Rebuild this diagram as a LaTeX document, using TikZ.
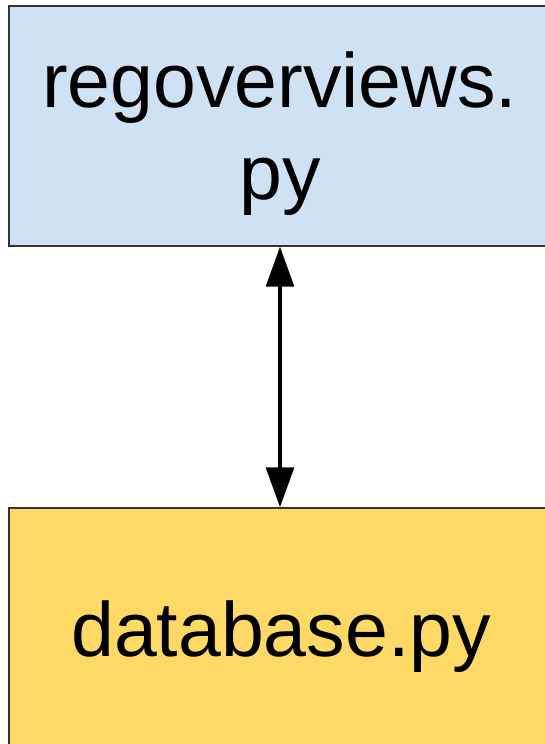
\documentclass[tikz,border=0pt]{standalone}
\usepackage{fontspec}
\setmainfont{Liberation Sans}
\usetikzlibrary{arrows.meta}
\definecolor{boxblue}{HTML}{CFE2F3}
\definecolor{boxyellow}{HTML}{FFD966}
\definecolor{edgegray}{HTML}{333333}
\tikzset{
  filebox/.style={draw=edgegray, line width=1.3pt, rectangle, inner sep=0pt},
  lbl/.style={inner sep=0pt, anchor=base, font=\fontsize{77}{92}\selectfont},
  arr/.style={line width=4.6pt, {Triangle[length=40pt,width=27.5pt]}-{Triangle[length=40pt,width=27.5pt]}}
}
\begin{document}
\begin{tikzpicture}[x=1pt,y=1pt]
\useasboundingbox (0,0) rectangle (545,744);
\clip (0,0) rectangle (545,744);
\node[filebox, fill=boxblue, minimum width=542pt, minimum height=240pt] (top) at (280,618) {};
\node[filebox, fill=boxyellow, minimum width=542pt, minimum height=260pt] (bot) at (280,106) {};
\node[lbl] (t1) at (279.7,636) {regoverviews.};
\node[lbl] (t2) at (280,544) {py};
\node[lbl] (t3) at (281,87.3) {database.py};
\draw[arr] (top.south) -- (bot.north);
\end{tikzpicture}
\end{document}
